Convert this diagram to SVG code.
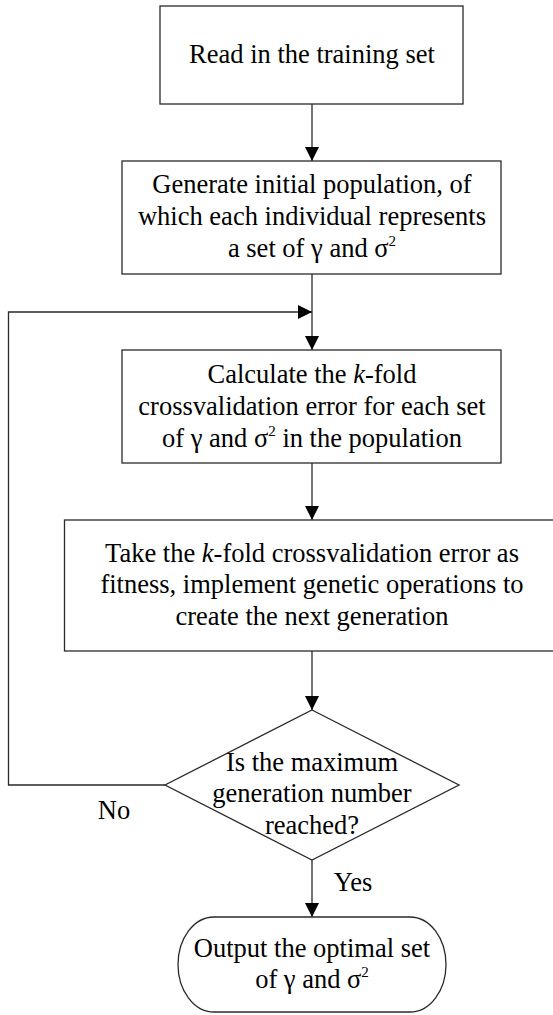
<svg xmlns="http://www.w3.org/2000/svg" width="553" height="1015" viewBox="0 0 553 1015">
<style>
.shape{fill:#fff;stroke:#2a2a2a;stroke-width:1.3}
.conn{fill:none;stroke:#2a2a2a;stroke-width:1.3}
.t{font-family:"Liberation Serif","Times New Roman",serif;font-size:26.5px;fill:#000;text-anchor:middle}
.sup{font-size:15px}
</style>
<defs>
<marker id="arr" markerUnits="userSpaceOnUse" markerWidth="14" markerHeight="14" refX="14" refY="7" orient="auto">
<path d="M0,0 L14,7 L0,14 Z" fill="#000"/>
</marker>
</defs>
<rect width="553" height="1015" fill="#fff"/>
<g id="connectors">
<line class="conn" x1="312" y1="104" x2="312" y2="161" marker-end="url(#arr)"/>
<line class="conn" x1="312" y1="274" x2="312" y2="350" marker-end="url(#arr)"/>
<polyline class="conn" points="165,785 8.5,785 8.5,312 312,312" marker-end="url(#arr)"/>
<line class="conn" x1="312" y1="463" x2="312" y2="520" marker-end="url(#arr)"/>
<line class="conn" x1="312" y1="651" x2="312" y2="710" marker-end="url(#arr)"/>
<line class="conn" x1="312" y1="860" x2="312" y2="917" marker-end="url(#arr)"/>
<text class="t" x="114" y="819">No</text>
<text class="t" x="353" y="891">Yes</text>
</g>
<g id="read">
<rect class="shape" x="160" y="6" width="303" height="98"/>
<text class="t" x="312" y="63">Read in the training set</text>
</g>
<g id="generate">
<rect class="shape" x="122" y="161" width="379" height="113"/>
<text class="t" x="312" y="193">Generate initial population, of</text>
<text class="t" x="312" y="225">which each individual represents</text>
<text class="t" x="312" y="257">a set of γ and σ<tspan class="sup" dy="-11">2</tspan></text>
</g>
<g id="calculate">
<rect class="shape" x="122" y="350" width="379" height="113"/>
<text class="t" x="312" y="383">Calculate the <tspan font-style="italic">k</tspan>-fold</text>
<text class="t" x="312" y="415">crossvalidation error for each set</text>
<text class="t" x="312" y="447">of γ and σ<tspan class="sup" dy="-11">2</tspan><tspan dy="11"> in the population</tspan></text>
</g>
<g id="evolve">
<rect class="shape" x="64.5" y="520" width="500" height="131"/>
<text class="t" x="312" y="562">Take the <tspan font-style="italic">k</tspan>-fold crossvalidation error as</text>
<text class="t" x="312" y="593">fitness, implement genetic operations to</text>
<text class="t" x="312" y="625">create the next generation</text>
</g>
<g id="decision">
<polygon class="shape" points="312,710 459,785 312,860 165,785"/>
<text class="t" x="312" y="771">Is the maximum</text>
<text class="t" x="312" y="802">generation number</text>
<text class="t" x="312" y="834">reached?</text>
</g>
<g id="output">
<rect class="shape" x="178" y="917" width="268" height="95" rx="36" ry="47.5"/>
<text class="t" x="312" y="957">Output the optimal set</text>
<text class="t" x="312" y="988">of γ and σ<tspan class="sup" dy="-11">2</tspan></text>
</g>
</svg>
